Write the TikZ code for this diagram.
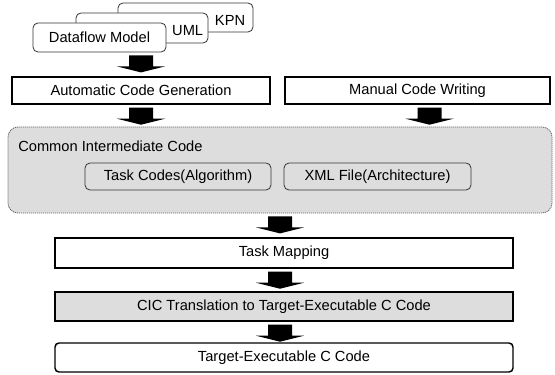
\documentclass[tikz,border=0pt]{standalone}
\usepackage{fontspec}
\setmainfont{Liberation Sans}
\usetikzlibrary{calc,positioning}

\newdimen\px \px=0.75pt
\definecolor{cicgray}{RGB}{221,221,221}

\tikzset{
  every node/.style={font=\fontsize{11}{13}\selectfont, inner sep=0pt},
  modelbox/.style={draw=black!80, line width=0.6pt, fill=white, rounded corners=5\px},
  stagebox/.style={draw, line width=1.1pt, minimum width=458\px, minimum height=29\px},
  codebox/.style={draw=black!80, line width=0.6pt, fill=cicgray, rounded corners=5\px,
                  minimum height=27\px},
}

\newcommand{\fatarrow}[1]{%
  \fill #1 ++(-12,3) -- ++(24,0) -- ++(0,11) -- ++(12,0) -- ++(-24,6)
        -- ++(-24,-6) -- ++(12,0) -- cycle;}

\begin{document}
\begin{tikzpicture}[x=0.75pt,y=-0.75pt]
\useasboundingbox (0,0) rectangle (555,374);

\node[modelbox, minimum width=135\px, minimum height=29\px,
      label={[anchor=east,xshift=-8\px,yshift=-2.5\px]east:KPN}] (kpn) at (185.5,17.5) {};
\node[modelbox, minimum width=132\px, minimum height=30\px,
      label={[anchor=east,xshift=-5\px,yshift=-2.5\px]east:UML}] (uml) at (142,28) {};
\node[modelbox, minimum width=133\px, minimum height=29\px] (dfm) at (99.5,37.5) {Dataflow Model};

\node[stagebox, minimum width=258\px, minimum height=27\px] (acg) at (141,90.5) {Automatic Code Generation};
\node[stagebox, minimum width=265\px, minimum height=27\px] (mcw) at (417.5,90.5) {Manual Code Writing};

\node[draw=black!60, fill=cicgray, line width=0.6pt, dash pattern=on 0.9pt off 0.6pt,
      rounded corners=10\px, minimum width=544\px, minimum height=86\px] (cic) at (280,170) {};
\node[anchor=west] (cictitle) at (18,146) {Common Intermediate Code};
\node[codebox, minimum width=186\px] (task) at (178,176.5) {Task Codes(Algorithm)};
\node[codebox, minimum width=187\px] (xml) at (377.5,176.5) {XML File(Architecture)};

\node[stagebox, minimum height=30\px] (map) at (284,253) {Task Mapping};
\node[stagebox, fill=cicgray] (trans) at (284,306.5) {CIC Translation to Target-Executable C Code};
\node[stagebox, rounded corners=4\px] (exe) at (284,357.5) {Target-Executable C Code};

\fatarrow{(dfm.south -| acg.north)}
\fatarrow{(acg.south)}
\fatarrow{([xshift=12\px]mcw.south)}
\fatarrow{(cic.south)}
\fatarrow{(map.south -| cic.south)}
\fatarrow{(trans.south -| cic.south)}
\end{tikzpicture}
\end{document}
